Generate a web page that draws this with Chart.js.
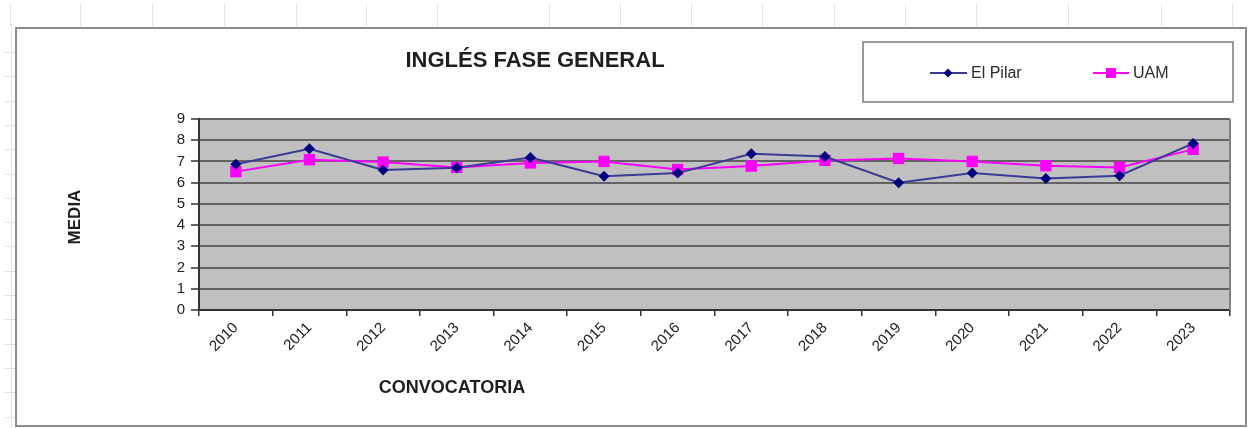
<!DOCTYPE html>
<html>
<head>
<meta charset="utf-8">
<script src="https://cdn.jsdelivr.net/npm/chart.js@4/dist/chart.umd.min.js"></script>
<style>
  html, body { margin: 0; padding: 0; background: #fff; }
  #wrap { position: relative; width: 1250px; height: 428px; }
</style>
</head>
<body>
<div id="wrap"><canvas id="c" width="1250" height="428"></canvas></div>
<script>
const categories = ['2010','2011','2012','2013','2014','2015','2016','2017','2018','2019','2020','2021','2022','2023'];
const elPilar = [6.87, 7.6, 6.6, 6.7, 7.18, 6.3, 6.45, 7.36, 7.23, 6.0, 6.45, 6.2, 6.33, 7.85];
const uam     = [6.52, 7.08, 6.97, 6.72, 6.93, 7.0, 6.62, 6.78, 7.05, 7.14, 7.0, 6.8, 6.72, 7.57];
const yTicks  = [0,1,2,3,4,5,6,7,8,9];
const chartTitle = 'INGLÉS FASE GENERAL';
const yTitle = 'MEDIA';
const xTitle = 'CONVOCATORIA';
const seriesNames = ['El Pilar', 'UAM'];

const FONT = '"Liberation Sans", Arial, sans-serif';

const decor = {
  id: 'decor',
  beforeDraw(chart) {
    const ctx = chart.ctx;
    const a = chart.chartArea;
    ctx.save();
    ctx.fillStyle = '#fff';
    ctx.fillRect(0, 0, chart.width, chart.height);
    // faint spreadsheet lines
    ctx.strokeStyle = '#e3e3e3';
    ctx.lineWidth = 1;
    [10, 80, 152, 224, 296, 366, 437, 549, 620, 691, 762, 834, 905, 976, 1068, 1161, 1232].forEach(x => {
      ctx.beginPath(); ctx.moveTo(x + 0.5, 4); ctx.lineTo(x + 0.5, 26); ctx.stroke();
    });
    ctx.beginPath(); ctx.moveTo(11.5, 24); ctx.lineTo(11.5, 428); ctx.stroke();
    for (let y = 52; y < 428; y += 24.3) {
      ctx.beginPath(); ctx.moveTo(4, Math.round(y) + 0.5); ctx.lineTo(15, Math.round(y) + 0.5); ctx.stroke();
    }
    // outer frame
    ctx.strokeStyle = '#8c8c8c';
    ctx.lineWidth = 2;
    ctx.strokeRect(16, 28, 1230, 398);
    // plot background
    ctx.fillStyle = '#c0c0c0';
    ctx.fillRect(a.left, a.top, a.right - a.left, a.bottom - a.top);
    ctx.restore();
  },
  afterDraw(chart) {
    const ctx = chart.ctx;
    const a = chart.chartArea;
    ctx.save();
    // plot right edge
    ctx.strokeStyle = '#808080';
    ctx.lineWidth = 2;
    ctx.beginPath(); ctx.moveTo(a.right, a.top); ctx.lineTo(a.right, a.bottom); ctx.stroke();
    // title
    ctx.fillStyle = '#1e1e1e';
    ctx.textAlign = 'center';
    ctx.textBaseline = 'middle';
    ctx.font = 'bold 22px ' + FONT;
    ctx.fillText(chartTitle, 535, 61);
    // axis titles
    ctx.font = 'bold 18px ' + FONT;
    ctx.fillText(xTitle, 452, 388);
    ctx.font = 'bold 17px ' + FONT;
    ctx.save();
    ctx.translate(75, 217);
    ctx.rotate(-Math.PI / 2);
    ctx.fillText(yTitle, 0, 0);
    ctx.restore();
    // legend box
    ctx.strokeStyle = '#7a7a7a';
    ctx.lineWidth = 1.5;
    ctx.strokeRect(863, 42, 370, 60);
    const ds = chart.data.datasets;
    const items = [
      { x0: 930, x1: 967, mx: 948, tx: 971 },
      { x0: 1093, x1: 1129, mx: 1111, tx: 1133 }
    ];
    items.forEach((it, i) => {
      const d = ds[i];
      const y = 73;
      ctx.strokeStyle = d.borderColor;
      ctx.lineWidth = d.borderWidth;
      ctx.beginPath(); ctx.moveTo(it.x0, y); ctx.lineTo(it.x1, y); ctx.stroke();
      ctx.fillStyle = d.pointBackgroundColor;
      if (d.pointStyle === 'rectRot') {
        const r = 4.5;
        ctx.beginPath();
        ctx.moveTo(it.mx, y - r); ctx.lineTo(it.mx + r, y); ctx.lineTo(it.mx, y + r); ctx.lineTo(it.mx - r, y);
        ctx.closePath(); ctx.fill();
      } else {
        ctx.fillRect(it.mx - 5, y - 5, 10, 10);
      }
      ctx.fillStyle = '#2a2a2a';
      ctx.textAlign = 'left';
      ctx.font = '16px ' + FONT;
      ctx.fillText(seriesNames[i], it.tx, y + 1);
    });
    ctx.restore();
  }
};

new Chart(document.getElementById('c'), {
  type: 'line',
  data: {
    labels: categories,
    datasets: [
      {
        label: seriesNames[0],
        data: elPilar,
        borderColor: '#3b3b96',
        borderWidth: 2,
        pointStyle: 'rectRot',
        pointRadius: 5.5,
        pointHoverRadius: 5.5,
        pointBackgroundColor: '#000080',
        pointBorderColor: '#000080',
        pointBorderWidth: 0,
        tension: 0
      },
      {
        label: seriesNames[1],
        data: uam,
        borderColor: '#ff00ff',
        borderWidth: 2,
        pointStyle: 'rect',
        pointRadius: 8,
        pointHoverRadius: 8,
        pointBackgroundColor: '#ff00ff',
        pointBorderColor: '#ff00ff',
        pointBorderWidth: 0,
        tension: 0
      }
    ]
  },
  options: {
    responsive: false,
    animation: false,
    devicePixelRatio: 1,
    layout: { padding: { left: 0, top: 119, right: 20, bottom: 0 } },
    plugins: { legend: { display: false }, title: { display: false }, tooltip: { enabled: false } },
    scales: {
      x: {
        type: 'category',
        offset: true,
        afterFit(s) { s.height = 118; },
        grid: { offset: true, drawOnChartArea: false, drawTicks: true, tickLength: 6, color: '#333', lineWidth: 1.5 },
        border: { color: '#333', width: 2 },
        ticks: {
          minRotation: 45, maxRotation: 45, autoSkip: false,
          color: '#222', padding: 3,
          font: { family: FONT, size: 15 }
        }
      },
      y: {
        min: 0, max: 9,
        afterFit(s) { s.width = 199; },
        afterBuildTicks(s) { s.ticks = yTicks.map(v => ({ value: v })); },
        grid: { color: '#636363', lineWidth: 2, drawTicks: true, tickLength: 8 },
        border: { color: '#333', width: 2 },
        ticks: {
          stepSize: 1, color: '#222', padding: 6,
          font: { family: FONT, size: 15 }
        }
      }
    }
  },
  plugins: [decor]
});
</script>
</body>
</html>
